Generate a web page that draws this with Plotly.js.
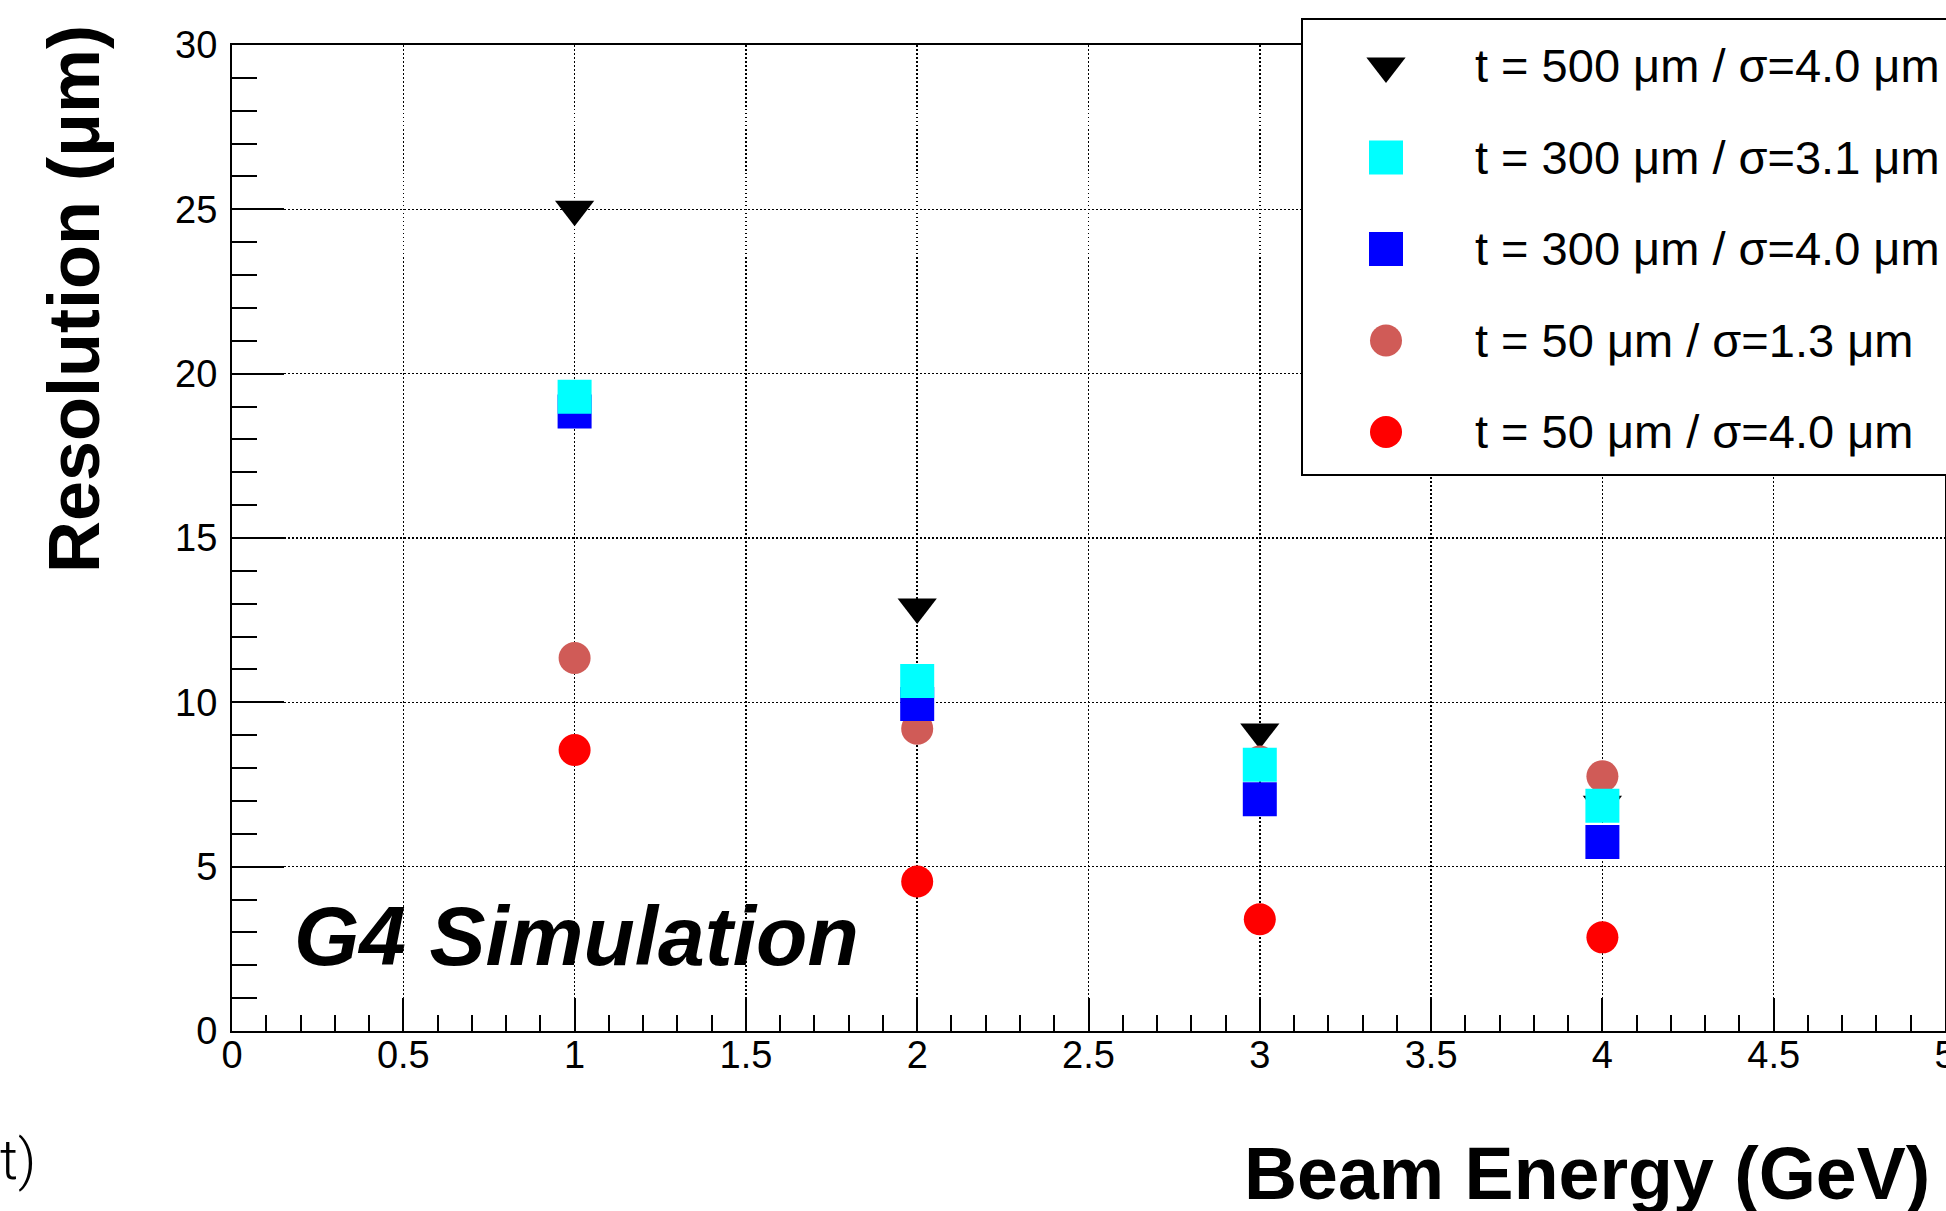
<!DOCTYPE html>
<html>
<head>
<meta charset="utf-8">
<script src="https://cdn.plot.ly/plotly-3.0.1.min.js"></script>
<style>
html, body { margin: 0; padding: 0; background: #ffffff; }
#chart { width: 1946px; height: 1211px; }
</style>
</head>
<body>
<div id="chart"></div>
<script>
// ---------------- data ----------------
const energy = [1, 2, 3, 4];                       // Beam Energy (GeV)
const res500s40 = [25.0, 12.9, 9.1, 6.9];          // t = 500 um / sigma = 4.0 um
const res300s31 = [19.3, 10.65, 8.1, 6.85];        // t = 300 um / sigma = 3.1 um
const res300s40 = [18.85, 9.95, 7.05, 5.75];       // t = 300 um / sigma = 4.0 um
const res50s13 = [11.35, 9.2, 8.2, 7.75];          // t = 50 um / sigma = 1.3 um
const res50s40 = [8.55, 4.55, 3.4, 2.85];          // t = 50 um / sigma = 4.0 um

const seriesNames = [
  "t = 500 μm / σ=4.0 μm",
  "t = 300 μm / σ=3.1 μm",
  "t = 300 μm / σ=4.0 μm",
  "t = 50 μm / σ=1.3 μm",
  "t = 50 μm / σ=4.0 μm"
];
const seriesValues = [res500s40, res300s31, res300s40, res50s13, res50s40];
const seriesColors = ["#000000", "#00ffff", "#0000ff", "#d05b57", "#ff0000"];
const seriesSymbols = ["triangle-down", "square", "square", "circle", "circle"];
const seriesSizes = [34, 34, 34, 32, 32];
const drawOrder = [0, 3, 4, 2, 1];   // bottom -> top

const xTitle = "Beam Energy (GeV)";
const yTitle = "Resolution (μm)";
const labelText = "G4 Simulation";
const cutText = "t)";

// ---------------- geometry ----------------
const W = 1946, H = 1211, L = 232, R = 0, T = 10, B = 180;
const pw = W - L - R, ph = H - T - B;
const px2x = px => (px - L) / pw;
const px2y = py => (H - B - py) / ph;

// legend panel (second, invisible subplot in pixel units)
const legX0 = 1299, legY0 = 16, legY1 = 478;
const legW = W - legX0, legH = legY1 - legY0;
const rowTop = 412, rowStep = 91.5, markerX = 87, textX = 174;

const FONT = "Liberation Sans, Arial, Helvetica, sans-serif";

// ---------------- traces ----------------
const traces = [];
drawOrder.forEach(i => {
  traces.push({
    type: "scatter", mode: "markers",
    x: energy, y: seriesValues[i], name: seriesNames[i],
    xaxis: "x", yaxis: "y", showlegend: false, hoverinfo: "x+y",
    marker: { symbol: seriesSymbols[i], size: seriesSizes[i], color: seriesColors[i], line: { width: 0 } }
  });
});
// legend swatches
seriesNames.forEach((n, i) => {
  traces.push({
    type: "scatter", mode: "markers",
    x: [markerX], y: [rowTop - rowStep * i], name: n,
    xaxis: "x2", yaxis: "y2", showlegend: false, hoverinfo: "skip",
    marker: { symbol: seriesSymbols[i], size: seriesSizes[i], color: seriesColors[i], line: { width: 0 } }
  });
});

// ---------------- annotations ----------------
const annotations = [];
seriesNames.forEach((n, i) => {
  annotations.push({
    xref: "x2", yref: "y2", x: textX, y: rowTop - rowStep * i,
    xanchor: "left", yanchor: "middle", showarrow: false, text: n,
    font: { family: FONT, size: 47, color: "#000" }
  });
});
annotations.push({
  xref: "paper", yref: "paper", x: px2x(74), y: px2y(299),
  xanchor: "center", yanchor: "middle", textangle: -90, showarrow: false, text: yTitle,
  font: { family: FONT, size: 72, weight: "bold", color: "#000" }
});
annotations.push({
  xref: "paper", yref: "paper", x: px2x(1587), y: px2y(1173),
  xanchor: "center", yanchor: "middle", showarrow: false, text: xTitle,
  font: { family: FONT, size: 73.5, weight: "bold", color: "#000" }
});
annotations.push({
  xref: "paper", yref: "paper", x: px2x(576), y: px2y(936),
  xanchor: "center", yanchor: "middle", showarrow: false, text: labelText,
  font: { family: FONT, size: 84, weight: "bold", style: "italic", color: "#000" }
});
annotations.push({
  xref: "paper", yref: "paper", x: px2x(38), y: px2y(1160),
  xanchor: "right", yanchor: "middle", showarrow: false, text: cutText,
  font: { family: "Roboto, Lato, sans-serif", size: 56, weight: 300, color: "#000" }
});

// ---------------- layout ----------------
const gridStyle = { showgrid: true, gridcolor: "#000000", gridwidth: 1.5, griddash: "1.5px,2.5px" };

const layout = {
  width: W, height: H,
  margin: { l: L, r: R, t: T, b: B, pad: 0 },
  paper_bgcolor: "#ffffff", plot_bgcolor: "rgba(0,0,0,0)",
  font: { family: FONT, color: "#000" },
  showlegend: false,
  xaxis: Object.assign({
    domain: [0, px2x(1945)], range: [0, 5], anchor: "y",
    tickmode: "linear", tick0: 0, dtick: 0.5,
    ticks: "inside", ticklen: 33, tickwidth: 2, tickcolor: "#000",
    minor: { ticks: "inside", ticklen: 16, tickwidth: 2, tickcolor: "#000", dtick: 0.1, showgrid: false },
    showline: true, linecolor: "#000", linewidth: 2, mirror: true,
    zeroline: false, tickfont: { family: FONT, size: 38, color: "#000" },
    ticklabelstandoff: -11, ticklabeloverflow: "allow", fixedrange: true
  }, gridStyle),
  yaxis: Object.assign({
    domain: [0, px2y(45)], range: [0, 30], anchor: "x",
    tickmode: "linear", tick0: 0, dtick: 5,
    ticks: "inside", ticklen: 52, tickwidth: 2, tickcolor: "#000",
    minor: { ticks: "inside", ticklen: 25, tickwidth: 2, tickcolor: "#000", dtick: 1, showgrid: false },
    showline: true, linecolor: "#000", linewidth: 2, mirror: true,
    zeroline: false, tickfont: { family: FONT, size: 38, color: "#000" },
    ticklabelstandoff: 5, ticklabeloverflow: "allow", fixedrange: true
  }, gridStyle),
  xaxis2: { domain: [px2x(legX0), 1], range: [0, legW], anchor: "y2", visible: false, fixedrange: true },
  yaxis2: { domain: [px2y(legY1), px2y(legY0)], range: [0, legH], anchor: "x2", visible: false, fixedrange: true },
  shapes: [
    { type: "rect", xref: "x2", yref: "y2", x0: 3, x1: legW + 40, y0: 3, y1: legH - 3,
      line: { color: "#000", width: 2 }, fillcolor: "#ffffff", layer: "below" }
  ],
  annotations: annotations
};

Plotly.newPlot("chart", traces, layout, { staticPlot: true, displayModeBar: false });
</script>
</body>
</html>
